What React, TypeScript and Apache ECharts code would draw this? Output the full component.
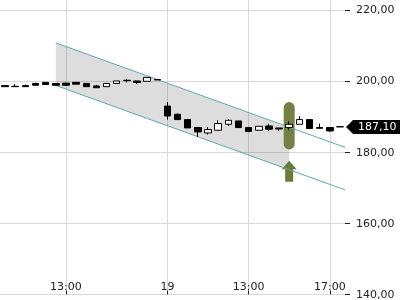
import React, { useEffect, useRef } from "react";
import * as echarts from "echarts";

const categories = [
  "18 10:00", "18 10:30", "18 11:00", "18 11:30", "18 12:00", "18 12:30", "18 13:00", "18 13:30",
  "18 14:00", "18 14:30", "18 15:00", "18 15:30", "18 16:00", "18 16:30", "18 17:00", "18 17:30",
  "19 09:00", "19 09:30", "19 10:00", "19 10:30", "19 11:00", "19 11:30", "19 12:00", "19 12:30",
  "19 13:00", "19 13:30", "19 14:00", "19 14:30", "19 15:00", "19 15:30", "19 16:00", "19 16:30",
  "19 17:00", "19 17:30",
];

const opens = [
  198.7, 198.5, 198.7, 199.3, 199.6, 199.3, 199.4, 199.6, 199.3, 198.6, 198.4, 199.3, 200.1, 200.0, 199.9, 200.4,
  192.95, 190.63, 189.15, 186.91, 185.4, 186.15, 187.83, 188.76, 186.91, 186.15, 187.36, 186.8, 186.91, 187.83,
  189.15, 186.91, 186.91, 187.15,
];
const closes = [
  198.4, 198.4, 198.4, 198.8, 199.0, 198.8, 198.8, 199.1, 198.4, 198.1, 199.3, 200.0, 200.2, 199.6, 201.0, 200.3,
  190.15, 189.15, 186.8, 185.68, 186.35, 188.03, 188.95, 186.91, 185.79, 187.27, 186.43, 186.5, 187.83, 189.15,
  186.63, 186.7, 185.96, 187.1,
];
const lows = [
  198.3, 198.4, 198.4, 198.8, 199.0, 198.8, 198.6, 199.1, 198.4, 198.1, 198.4, 199.3, 199.6, 199.2, 199.9, 200.3,
  189.15, 189.0, 186.8, 184.28, 184.95, 186.15, 187.36, 186.91, 185.79, 186.15, 186.0, 186.0, 186.15, 187.83,
  186.63, 186.7, 185.6, 187.1,
];
const highs = [
  198.8, 199.1, 199.0, 199.5, 199.6, 199.3, 199.5, 199.6, 199.3, 198.9, 199.3, 200.0, 200.6, 200.0, 201.0, 200.4,
  194.07, 191.0, 189.15, 186.91, 187.0, 188.95, 189.3, 188.76, 186.91, 187.27, 188.0, 186.8, 188.67, 190.07,
  189.15, 188.0, 186.91, 187.15,
];

const labeledTicks = ["18 13:00", "19 09:00", "19 13:00", "19 17:00"];
const tickTexts = ["13:00", "19", "13:00", "17:00"];

// trend channel (x in category-index units)
const channelX = [5, 33.5];
const channelUpper = [210.7, 181.35];
const channelLower = [198.74, 169.4];
const shadeEndX = 28;

// signal marker
const signalIndex = 28;
const signalPill = [194.07, 180.75];
const signalArrow = [177.6, 171.7];

const lastPrice = 187.1;

const FONT = "DejaVu Sans";
const fmt = (v: number) => v.toFixed(2).replace(".", ",");

const lerp = (x: number, xs: number[], ys: number[]) =>
  ys[0] + ((ys[1] - ys[0]) * (x - xs[0])) / (xs[1] - xs[0]);

export default function App() {
  const ref = useRef<HTMLDivElement>(null);
  useEffect(() => {
    if (!ref.current) return;
    const chart = echarts.init(ref.current, undefined, { renderer: "svg" });
    const showTick = (idx: number, val: string) => labeledTicks.indexOf(categories[idx] ?? val) >= 0;
    const candleData = categories.map((_, i) => [opens[i], closes[i], lows[i], highs[i]]);

    chart.setOption({
      animation: false,
      textStyle: { fontFamily: FONT },
      grid: { left: 0, right: 55, top: 0, bottom: 3, containLabel: false },
      xAxis: [
        {
          type: "category",
          data: categories,
          boundaryGap: true,
          axisLine: { show: true, onZero: false, lineStyle: { color: "#d9d9d9" } },
          axisTick: { show: true, inside: true, length: 4, alignWithLabel: true, interval: showTick, lineStyle: { color: "#222" } },
          axisLabel: {
            inside: true,
            margin: 3,
            interval: showTick,
            color: "#222",
            fontSize: 11,
            fontFamily: FONT,
            formatter: (v: string) => {
              const k = labeledTicks.indexOf(v);
              return k >= 0 ? tickTexts[k] : "";
            },
          },
          splitLine: { show: true, alignWithLabel: true, interval: showTick, lineStyle: { color: "#d9d9d9" } },
        },
        {
          type: "value",
          min: -0.5,
          max: categories.length - 0.5,
          show: false,
          axisLine: { onZero: false },
          splitLine: { show: false },
        },
      ],
      yAxis: {
        type: "value",
        position: "right",
        min: 140,
        max: 222.75,
        interval: 20,
        axisLine: { show: false, onZero: false },
        axisTick: { show: true, length: 5, lineStyle: { color: "#222" } },
        axisLabel: {
          margin: 11,
          color: "#222",
          fontSize: 11,
          fontFamily: FONT,
          showMaxLabel: false,
          formatter: (v: number) => fmt(v),
        },
        splitLine: { show: true, showMaxLine: false, lineStyle: { color: "#d9d9d9" } },
      },
      series: [
        {
          type: "custom",
          name: "shade",
          xAxisIndex: 1,
          z: 1,
          silent: true,
          data: [[channelX[0], shadeEndX]],
          renderItem: (params: any, api: any) => {
            const x0 = api.value(0);
            const x1 = api.value(1);
            const pts = [
              api.coord([x0, lerp(x0, channelX, channelUpper)]),
              api.coord([x1, lerp(x1, channelX, channelUpper)]),
              api.coord([x1, lerp(x1, channelX, channelLower)]),
              api.coord([x0, lerp(x0, channelX, channelLower)]),
            ];
            return { type: "polygon", shape: { points: pts }, style: { fill: "rgba(0,0,0,0.135)" } };
          },
        },
        {
          type: "custom",
          name: "signal",
          xAxisIndex: 0,
          z: 2,
          silent: true,
          data: [[signalIndex, signalPill[0], signalPill[1], signalArrow[0], signalArrow[1]]],
          renderItem: (params: any, api: any) => {
            const i = api.value(0);
            const top = api.coord([i, api.value(1)]);
            const bot = api.coord([i, api.value(2)]);
            const aTop = api.coord([i, api.value(3)]);
            const aBot = api.coord([i, api.value(4)]);
            const cx = top[0];
            const w = 11;
            const col = "#6b7b3a";
            const headH = 8.5;
            return {
              type: "group",
              children: [
                {
                  type: "rect",
                  shape: { x: cx - w / 2, y: top[1], width: w, height: bot[1] - top[1], r: w / 2 },
                  style: { fill: col, opacity: 0.95 },
                },
                {
                  type: "polygon",
                  shape: {
                    points: [
                      [cx, aTop[1]],
                      [cx + 7.5, aTop[1] + headH],
                      [cx + 4, aTop[1] + headH],
                      [cx + 4, aBot[1]],
                      [cx - 4, aBot[1]],
                      [cx - 4, aTop[1] + headH],
                      [cx - 7.5, aTop[1] + headH],
                    ],
                  },
                  style: { fill: col },
                },
              ],
            };
          },
        },
        {
          type: "line",
          name: "upper",
          xAxisIndex: 1,
          z: 3,
          symbol: "none",
          silent: true,
          data: channelX.map((x, k) => [x, channelUpper[k]]),
          lineStyle: { color: "#62a7ae", width: 1 },
        },
        {
          type: "line",
          name: "lower",
          xAxisIndex: 1,
          z: 3,
          symbol: "none",
          silent: true,
          data: channelX.map((x, k) => [x, channelLower[k]]),
          lineStyle: { color: "#62a7ae", width: 1 },
        },
        {
          type: "candlestick",
          name: "price",
          xAxisIndex: 0,
          z: 4,
          barWidth: 7,
          data: candleData,
          itemStyle: {
            color: "#ffffff",
            color0: "#000000",
            borderColor: "#000000",
            borderColor0: "#000000",
            borderWidth: 1,
          },
        },
        {
          type: "custom",
          name: "last",
          xAxisIndex: 1,
          z: 5,
          silent: true,
          clip: false,
          data: [[categories.length - 0.5, lastPrice]],
          renderItem: (params: any, api: any) => {
            const p = api.coord([api.value(0), api.value(1)]);
            const x = p[0] + 1;
            const y = p[1];
            return {
              type: "group",
              children: [
                {
                  type: "polygon",
                  shape: {
                    points: [
                      [x, y],
                      [x + 7, y - 7],
                      [x + 60, y - 7],
                      [x + 60, y + 7],
                      [x + 7, y + 7],
                    ],
                  },
                  style: { fill: "#000" },
                },
                {
                  type: "text",
                  x: x + 12,
                  y: y,
                  style: {
                    text: fmt(api.value(1)),
                    fill: "#fff",
                    fontSize: 11,
                    fontFamily: FONT,
                    verticalAlign: "middle",
                    align: "left",
                  },
                },
              ],
            };
          },
        },
      ],
    });
    return () => chart.dispose();
  }, []);
  return <div ref={ref} style={{ position: "fixed", left: 0, top: 0, width: 400, height: 300 }} />;
}
